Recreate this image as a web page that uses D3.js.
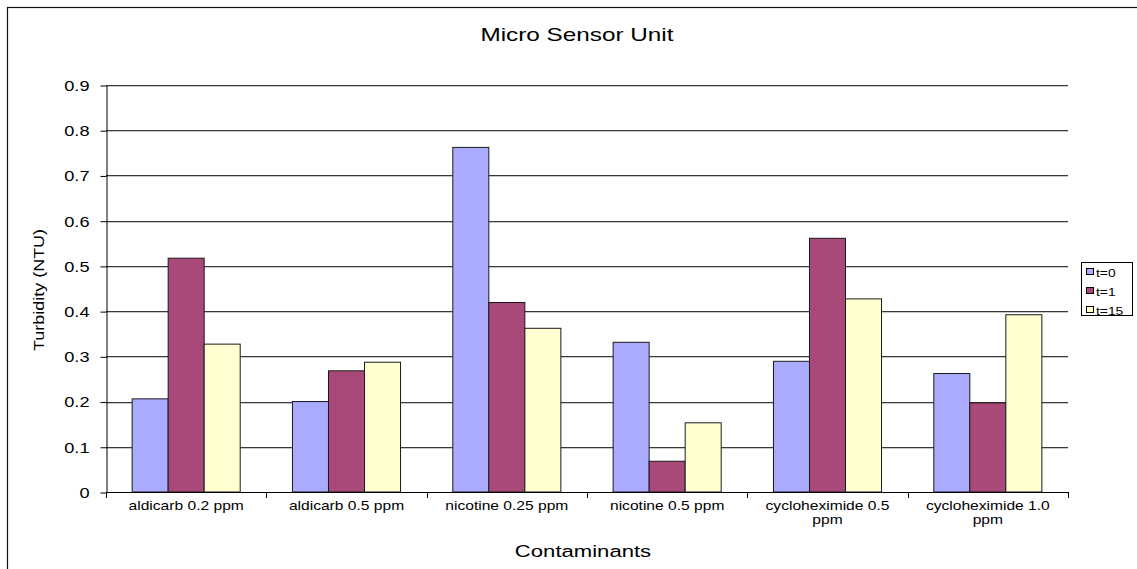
<!DOCTYPE html>
<html>
<head>
<meta charset="utf-8">
<script src="https://cdn.jsdelivr.net/npm/d3@7"></script>
<style>
  html, body { margin: 0; padding: 0; background: #fff; }
  svg { display: block; font-family: "Liberation Sans", Arial, sans-serif; }
</style>
</head>
<body>
<svg id="chart" width="1137" height="569"></svg>
<script>
const categories = ["aldicarb 0.2 ppm", "aldicarb 0.5 ppm", "nicotine 0.25 ppm", "nicotine 0.5 ppm", "cycloheximide 0.5 ppm", "cycloheximide 1.0 ppm"];
const seriesNames = ["t=0", "t=1", "t=15"];
const t0Values  = [0.206, 0.200, 0.762, 0.331, 0.289, 0.262];
const t1Values  = [0.517, 0.268, 0.419, 0.068, 0.561, 0.197];
const t15Values = [0.327, 0.287, 0.362, 0.153, 0.427, 0.392];
const yTickValues = [0, 0.1, 0.2, 0.3, 0.4, 0.5, 0.6, 0.7, 0.8, 0.9];
const yTickLabels = ["0", "0.1", "0.2", "0.3", "0.4", "0.5", "0.6", "0.7", "0.8", "0.9"];
const seriesColors = ["#AAAAFF", "#A8497A", "#FFFFD2"];
const titleText = "Micro Sensor Unit";
const xTitleText = "Contaminants";
const yTitleText = "Turbidity (NTU)";

const seriesValues = [t0Values, t1Values, t15Values];
const data = categories.map((c, i) => ({
  category: c,
  values: seriesNames.map((s, j) => ({ series: s, value: seriesValues[j][i], idx: j }))
}));

const svg = d3.select("#chart");
const SX = 1.3;

const plot = { left: 106, right: 1068, top: 85, bottom: 492 };

// outer frame (left & top visible)
svg.append("rect")
  .attr("x", 7.5).attr("y", 7.5)
  .attr("width", 1300).attr("height", 700)
  .attr("fill", "none").attr("stroke", "#111").attr("stroke-width", 1.2);

const y = d3.scaleLinear().domain([0, 0.9]).range([plot.bottom, plot.top]);
const x0 = d3.scaleBand().domain(categories).range([plot.left, plot.right])
  .paddingInner(0.326).paddingOuter(0.163);
const x1 = d3.scaleBand().domain(seriesNames).range([0, x0.bandwidth()]).padding(0);
const color = d3.scaleOrdinal().domain(seriesNames).range(seriesColors);

// gridlines
const grid = svg.append("g");
yTickValues.filter(v => v > 0).forEach(v => {
  const yy = Math.round(y(v)) + 0.5;
  grid.append("line").attr("x1", plot.left).attr("x2", plot.right)
    .attr("y1", yy + 1).attr("y2", yy + 1).attr("stroke", "#c8c8c8").attr("stroke-width", 1);
  grid.append("line").attr("x1", plot.left).attr("x2", plot.right)
    .attr("y1", yy).attr("y2", yy).attr("stroke", "#3a3a3a").attr("stroke-width", 1);
});

// bars
const groups = svg.append("g").selectAll("g").data(data).join("g")
  .attr("transform", d => `translate(${x0(d.category)},0)`);
groups.selectAll("rect").data(d => d.values).join("rect")
  .attr("x", d => x1(d.series))
  .attr("y", d => y(d.value))
  .attr("width", x1.bandwidth())
  .attr("height", d => y(0) - y(d.value))
  .attr("fill", d => color(d.series))
  .attr("stroke", "#1a1a1a")
  .attr("stroke-width", 1);

// y axis
const yAxis = d3.axisLeft(y).tickValues(yTickValues)
  .tickFormat((d, i) => yTickLabels[i]).tickSize(6).tickSizeOuter(0);
const gy = svg.append("g").attr("transform", `translate(${plot.left + 0.5},0.5)`).call(yAxis);
gy.select(".domain").attr("stroke", "#000");
gy.selectAll(".tick line").attr("stroke", "#000");
gy.selectAll(".tick text")
  .attr("x", 0)
  .attr("dy", "0.35em")
  .attr("text-anchor", "end")
  .attr("transform", `translate(-17,0) scale(${SX},1)`)
  .attr("font-size", 14)
  .attr("font-family", "Liberation Sans, Arial, sans-serif")
  .attr("fill", "#000");

// x axis line and ticks at category boundaries
const step = x0.step();
const boundaries = d3.range(categories.length + 1).map(i => plot.left + i * step);
svg.append("line").attr("x1", plot.left).attr("x2", plot.right)
  .attr("y1", plot.bottom + 0.5).attr("y2", plot.bottom + 0.5).attr("stroke", "#000");
svg.append("g").selectAll("line").data(boundaries).join("line")
  .attr("x1", d => Math.round(d) + 0.5).attr("x2", d => Math.round(d) + 0.5)
  .attr("y1", plot.bottom).attr("y2", plot.bottom + 6).attr("stroke", "#000");

// x labels with wrapping
const xl = svg.append("g");
const maxW = 140;
categories.forEach(c => {
  const cx = x0(c) + x0.bandwidth() / 2;
  const t = xl.append("text")
    .attr("transform", `translate(${cx},510) scale(${SX},1)`)
    .attr("text-anchor", "middle").attr("font-size", 12).attr("fill", "#000");
  const words = c.split(" ");
  let line = [];
  let lineNo = 0;
  let tspan = t.append("tspan").attr("x", 0).attr("y", 0);
  words.forEach(w => {
    line.push(w);
    tspan.text(line.join(" "));
    if (tspan.node().getComputedTextLength() * SX > maxW && line.length > 1) {
      line.pop();
      tspan.text(line.join(" "));
      line = [w];
      lineNo++;
      tspan = t.append("tspan").attr("x", 0).attr("y", lineNo * 14).text(w);
    }
  });
});

// title
svg.append("text")
  .attr("transform", `translate(577,41) scale(1.35,1)`)
  .attr("text-anchor", "middle").attr("font-size", 18).attr("fill", "#000")
  .text(titleText);

// x title
svg.append("text")
  .attr("transform", `translate(583,557) scale(${SX},1)`)
  .attr("text-anchor", "middle").attr("font-size", 17).attr("fill", "#000")
  .text(xTitleText);

// y title
svg.append("text")
  .attr("transform", `translate(44,290) rotate(-90) scale(1.2,1)`)
  .attr("text-anchor", "middle").attr("font-size", 15).attr("fill", "#000")
  .text(yTitleText);

// legend
const lg = svg.append("g");
lg.append("rect").attr("x", 1081.5).attr("y", 262.5).attr("width", 51).attr("height", 53)
  .attr("fill", "#fff").attr("stroke", "#000").attr("stroke-width", 1);
seriesNames.forEach((s, i) => {
  const cy = 272 + i * 19;
  lg.append("rect").attr("x", 1086.5).attr("y", cy - 3.5).attr("width", 7).attr("height", 6)
    .attr("fill", color(s)).attr("stroke", "#000").attr("stroke-width", 1);
  lg.append("text")
    .attr("transform", `translate(1096,${cy + 4.5}) scale(1.2,1)`)
    .attr("font-size", 11.5).attr("fill", "#000").text(s);
});
</script>
</body>
</html>
